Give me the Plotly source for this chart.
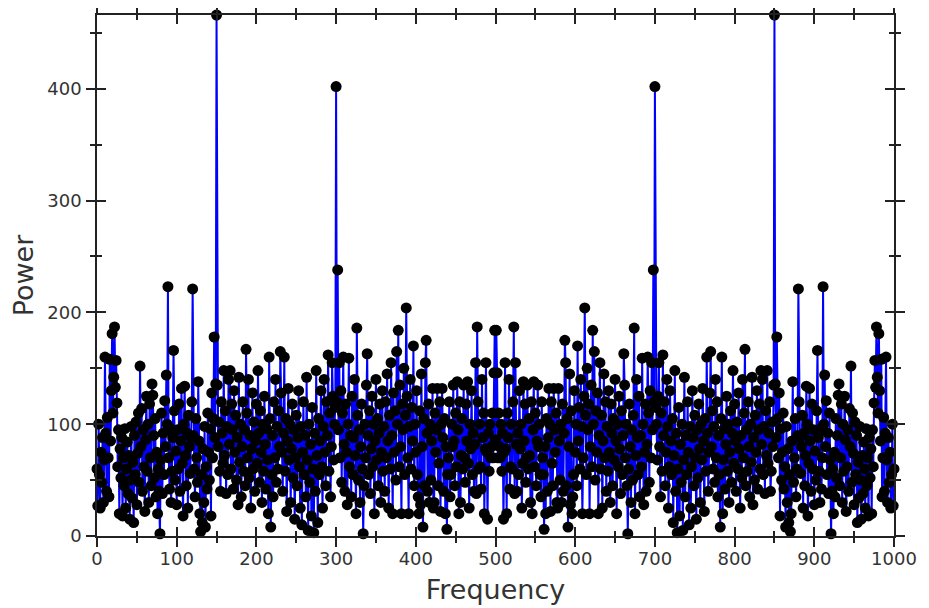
import plotly.graph_objects as go

# Power spectrum values (frequency 0..500, then 501..1000)
power_0_500 = [
    60, 27, 100, 55, 25, 75, 48, 88, 30, 68, 160, 92, 40, 106, 70, 35, 158, 85, 130, 181,
    110, 142, 187, 133, 157, 119, 62, 95, 20, 78, 52, 88, 18, 70, 45, 96, 25, 60, 84, 38,
    72, 15, 50, 98, 34, 66, 12, 90, 55, 102, 28, 74, 110, 48, 152, 80, 114, 40, 95, 62,
    22, 86, 125, 58, 100, 30, 118, 70, 45, 136, 126, 90, 52, 105, 35, 75, 20, 60, 40, 2,
    68, 110, 38, 92, 55, 121, 80, 144, 100, 223, 70, 42, 96, 30, 58, 88, 166, 112, 50, 76,
    28, 95, 60, 118, 40, 85, 132, 65, 18, 100, 134, 72, 45, 92, 25, 108, 80, 56, 88, 120,
    221, 90, 60, 35, 105, 70, 48, 138, 85, 20, 4, 55, 12, 78, 30, 98, 8, 62, 42, 110,
    75, 50, 96, 18, 128, 70, 105, 178, 88, 136, 466, 135, 80, 102, 58, 40, 120, 92, 65, 148,
    72, 112, 38, 98, 55, 140, 82, 148, 60, 118, 95, 42, 130, 75, 108, 50, 88, 28, 142, 66,
    100, 35, 80, 120, 58, 95, 45, 167, 110, 70, 140, 52, 90, 25, 78, 128, 60, 102, 40, 85,
    118, 65, 148, 92, 48, 112, 75, 30, 100, 58, 125, 82, 42, 96, 68, 20, 160, 105, 8, 55,
    90, 35, 120, 70, 140, 48, 98, 60, 112, 80, 165, 128, 75, 40, 92, 160, 58, 105, 22, 85,
    132, 68, 100, 30, 78, 118, 52, 95, 15, 70, 108, 45, 88, 130, 62, 25, 98, 10, 75, 120,
    55, 90, 35, 142, 68, 5, 100, 48, 82, 18, 115, 60, 3, 92, 40, 148, 72, 12, 105, 55,
    85, 130, 62, 25, 98, 140, 75, 45, 120, 90, 162, 58, 110, 35, 80, 155, 125, 68, 100, 115,
    402, 120, 238, 95, 155, 70, 130, 48, 110, 160, 82, 40, 118, 75, 28, 100, 159, 62, 90, 35,
    125, 55, 88, 140, 72, 20, 186, 108, 50, 95, 30, 80, 118, 60, 2, 45, 100, 70, 135, 163,
    90, 55, 112, 38, 78, 125, 62, 100, 20, 85, 140, 68, 105, 45, 92, 118, 30, 75, 130, 58,
    98, 40, 120, 70, 145, 85, 25, 108, 60, 155, 90, 20, 128, 75, 112, 50, 165, 100, 184, 62,
    135, 80, 20, 118, 95, 150, 55, 108, 204, 125, 70, 20, 98, 140, 60, 115, 85, 170, 45, 100,
    75, 130, 55, 35, 20, 112, 28, 145, 80, 8, 105, 45, 155, 175, 92, 40, 118, 30, 100, 50,
    85, 132, 25, 30, 110, 75, 95, 132, 45, 65, 120, 22, 100, 132, 88, 40, 105, 20, 80, 6,
    55, 70, 120, 35, 55, 100, 80, 135, 85, 45, 110, 62, 138, 95, 20, 120, 30, 72, 105, 60,
    135, 70, 48, 118, 85, 138, 65, 25, 100, 78, 130, 55, 92, 40, 82, 155, 38, 187, 120, 60,
    100, 62, 42, 140, 88, 110, 20, 78, 155, 75, 15, 92, 58, 100, 70, 80, 110, 70, 146, 184,
    86,
]

power_501_1000 = [
    184, 146, 70, 110, 80, 70, 100, 58, 92, 15, 75, 155, 78, 20, 110, 88, 140, 42, 62, 100,
    60, 120, 187, 38, 155, 82, 40, 92, 55, 130, 78, 100, 25, 65, 138, 85, 118, 48, 70, 135,
    60, 105, 72, 30, 120, 20, 95, 138, 62, 110, 45, 85, 135, 80, 100, 55, 35, 120, 70, 55,
    6, 80, 20, 105, 40, 88, 132, 100, 22, 120, 65, 45, 132, 95, 75, 110, 30, 25, 132, 85,
    50, 100, 30, 118, 40, 92, 175, 155, 45, 105, 8, 80, 145, 28, 112, 20, 35, 55, 130, 75,
    100, 45, 170, 85, 115, 60, 140, 98, 20, 70, 125, 204, 108, 55, 150, 95, 118, 20, 80, 135,
    62, 184, 100, 165, 50, 112, 75, 128, 20, 90, 155, 60, 108, 25, 85, 145, 70, 120, 40, 98,
    58, 130, 75, 30, 118, 92, 45, 105, 68, 140, 85, 20, 100, 62, 125, 78, 38, 112, 55, 90,
    163, 135, 70, 100, 45, 2, 60, 118, 80, 30, 95, 50, 108, 186, 20, 72, 140, 88, 55, 125,
    35, 90, 62, 159, 100, 28, 75, 118, 40, 82, 160, 110, 48, 130, 70, 155, 95, 238, 120, 402,
    115, 100, 68, 125, 155, 80, 35, 110, 58, 162, 90, 120, 45, 75, 140, 98, 25, 62, 130, 85,
    55, 105, 12, 72, 148, 40, 92, 3, 60, 115, 18, 82, 48, 100, 5, 68, 142, 35, 90, 55,
    120, 75, 10, 98, 25, 62, 130, 88, 45, 108, 70, 15, 95, 52, 118, 78, 30, 100, 68, 132,
    85, 22, 105, 58, 160, 92, 40, 75, 128, 165, 80, 112, 60, 98, 48, 140, 70, 120, 35, 90,
    55, 8, 105, 160, 20, 68, 96, 42, 82, 125, 58, 100, 30, 75, 112, 48, 92, 148, 65, 118,
    85, 40, 102, 60, 128, 78, 25, 90, 52, 140, 70, 110, 167, 45, 95, 58, 120, 80, 35, 100,
    66, 142, 28, 88, 50, 108, 75, 130, 42, 95, 118, 60, 148, 82, 140, 55, 98, 38, 112, 72,
    148, 65, 92, 120, 40, 58, 102, 80, 135, 466, 136, 88, 178, 105, 70, 128, 18, 96, 50, 75,
    110, 42, 62, 8, 98, 30, 78, 12, 55, 4, 20, 85, 138, 48, 70, 105, 35, 60, 90, 221,
    120, 88, 56, 80, 108, 25, 92, 45, 72, 134, 100, 18, 65, 132, 85, 40, 118, 60, 95, 28,
    76, 50, 112, 166, 88, 58, 30, 96, 42, 70, 223, 100, 144, 80, 121, 55, 92, 38, 110, 68,
    2, 40, 60, 20, 75, 35, 105, 52, 90, 126, 136, 45, 70, 118, 30, 100, 58, 125, 86, 22,
    62, 95, 40, 114, 80, 152, 48, 110, 74, 28, 102, 55, 90, 12, 66, 34, 98, 50, 15, 72,
    38, 84, 60, 25, 96, 45, 70, 18, 88, 52, 78, 20, 95, 62, 119, 157, 133, 187, 142, 110,
    181, 130, 85, 158, 35, 70, 106, 40, 92, 160, 68, 30, 88, 48, 75, 25, 55, 100, 27, 60,
]

power = power_0_500 + power_501_1000
frequency = list(range(len(power)))

x_title = "Frequency"
y_title = "Power"

AX = "#222222"

fig = go.Figure()
fig.add_trace(go.Scatter(
    x=frequency, y=power, mode="lines+markers",
    line=dict(color="#0000ff", width=2),
    marker=dict(color="black", size=11, line=dict(width=0)),
    cliponaxis=False, showlegend=False,
))
# helper trace to activate the overlay axes (inside ticks -> crossing ticks)
fig.add_trace(go.Scatter(
    x=[0], y=[0], xaxis="x2", yaxis="y2", mode="markers",
    marker=dict(opacity=0), showlegend=False, hoverinfo="skip",
))

common = dict(showgrid=False, zeroline=False, showline=True, linecolor=AX,
              linewidth=1.5, mirror="allticks", tickcolor=AX, tickwidth=1.5,
              automargin=False)

# the page body adds an 8px offset; the figure is sized so its plot area matches
fig.update_layout(
    width=913, height=600,
    margin=dict(l=89, r=27, t=7, b=72),
    plot_bgcolor="white", paper_bgcolor="white",
    font=dict(family="DejaVu Sans", size=18, color="#333333"),
    xaxis=dict(range=[0, 1000], tickmode="linear", tick0=0, dtick=100,
               ticks="outside", ticklen=9, ticklabelstandoff=-3,
               minor=dict(ticks="outside", ticklen=5, dtick=50, tick0=0,
                          tickcolor=AX, tickwidth=1.5),
               title=dict(text=x_title, font=dict(size=27, color="#333333"), standoff=12),
               **common),
    yaxis=dict(range=[0, 466], tickmode="linear", tick0=0, dtick=100,
               ticks="outside", ticklen=9, ticklabelstandoff=1,
               minor=dict(ticks="outside", ticklen=5, dtick=50, tick0=0,
                          tickcolor=AX, tickwidth=1.5),
               title=dict(text=y_title, font=dict(size=27, color="#333333"), standoff=8),
               **common),
    xaxis2=dict(overlaying="x", anchor="y2", range=[0, 1000], tickmode="linear",
                tick0=0, dtick=100, ticks="inside", ticklen=9, showticklabels=False,
                minor=dict(ticks="inside", ticklen=5, dtick=50, tick0=0,
                           tickcolor=AX, tickwidth=1.5),
                **common),
    yaxis2=dict(overlaying="y", anchor="x2", range=[0, 466], tickmode="linear",
                tick0=0, dtick=100, ticks="inside", ticklen=9, showticklabels=False,
                minor=dict(ticks="inside", ticklen=5, dtick=50, tick0=0,
                           tickcolor=AX, tickwidth=1.5),
                **common),
)

fig.write_html("out.html")
